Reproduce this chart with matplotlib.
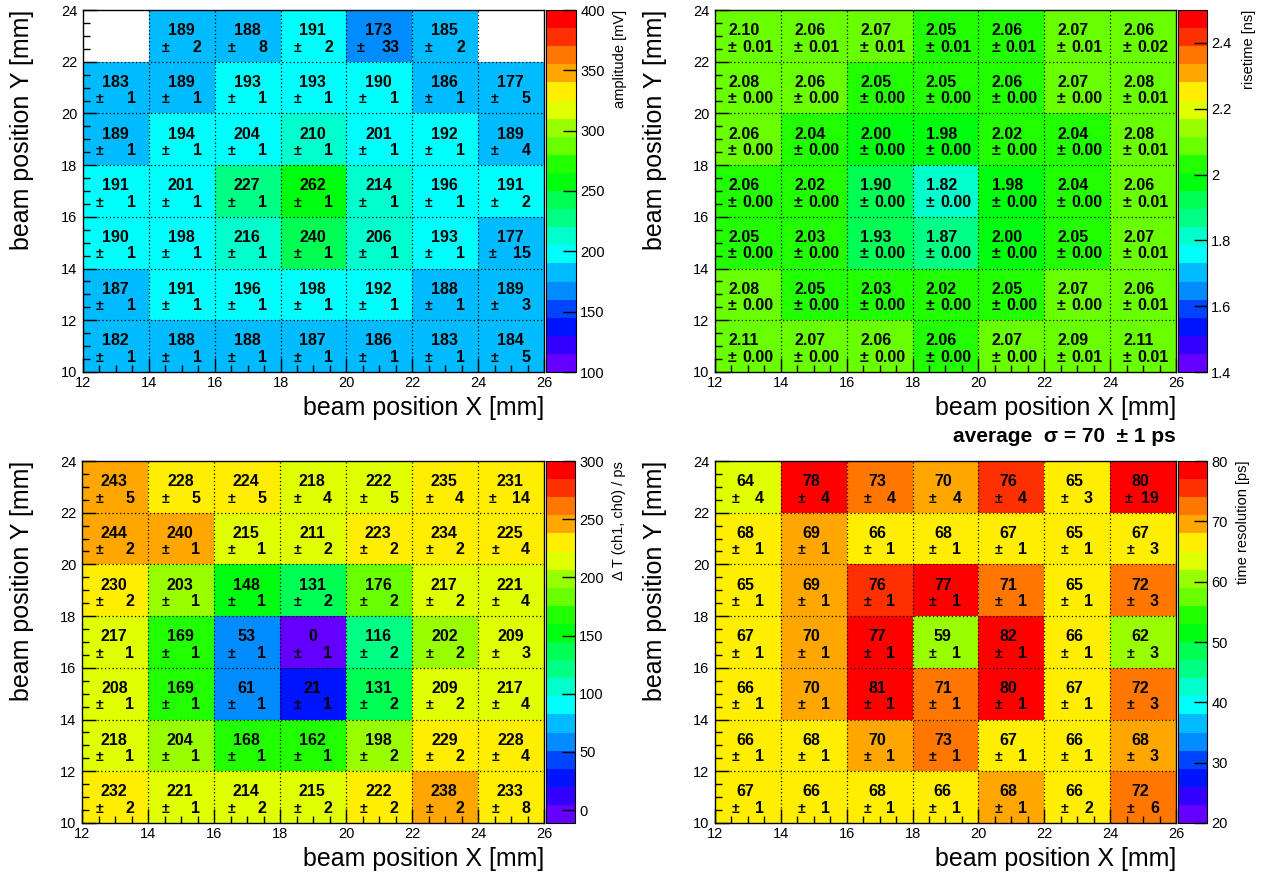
import numpy as np
import matplotlib
matplotlib.use("Agg")
import matplotlib.pyplot as plt
from matplotlib.colors import ListedColormap, Normalize
from matplotlib.cm import ScalarMappable
from matplotlib.ticker import MultipleLocator, FixedLocator, FuncFormatter
import colorsys

plt.rcParams['font.family'] = ['Liberation Sans', 'DejaVu Sans']

nan = np.nan
x_edges = [12, 14, 16, 18, 20, 22, 24, 26]
y_edges = [10, 12, 14, 16, 18, 20, 22, 24]

# rows listed from top (y 22-24) to bottom (y 10-12)
amp_val = [[nan, 189, 188, 191, 173, 185, nan],
           [183, 189, 193, 193, 190.2, 186, 177],
           [189, 194, 204, 210, 201, 192, 189],
           [191, 201, 227, 262, 214, 196, 191],
           [190.2, 198, 216, 240, 206, 193, 177],
           [187, 191, 196, 198, 192, 188, 189],
           [182, 188, 188, 187, 186, 183, 184]]
amp_err = [[nan, 2, 8, 2, 33, 2, nan],
           [1, 1, 1, 1, 1, 1, 5],
           [1, 1, 1, 1, 1, 1, 4],
           [1, 1, 1, 1, 1, 1, 2],
           [1, 1, 1, 1, 1, 1, 15],
           [1, 1, 1, 1, 1, 1, 3],
           [1, 1, 1, 1, 1, 1, 5]]

rise_val = [[2.10, 2.062, 2.07, 2.05, 2.058, 2.07, 2.062],
            [2.08, 2.062, 2.05, 2.05, 2.058, 2.07, 2.08],
            [2.062, 2.04, 2.00, 1.98, 2.02, 2.04, 2.08],
            [2.058, 2.02, 1.90, 1.82, 1.98, 2.04, 2.062],
            [2.05, 2.03, 1.93, 1.87, 2.00, 2.05, 2.07],
            [2.08, 2.05, 2.03, 2.02, 2.05, 2.07, 2.062],
            [2.11, 2.07, 2.062, 2.058, 2.07, 2.09, 2.11]]
rise_err = [[0.01, 0.01, 0.01, 0.01, 0.01, 0.01, 0.02],
            [0.00, 0.00, 0.00, 0.00, 0.00, 0.00, 0.01],
            [0.00, 0.00, 0.00, 0.00, 0.00, 0.00, 0.01],
            [0.00, 0.00, 0.00, 0.00, 0.00, 0.00, 0.01],
            [0.00, 0.00, 0.00, 0.00, 0.00, 0.00, 0.01],
            [0.00, 0.00, 0.00, 0.00, 0.00, 0.00, 0.01],
            [0.00, 0.00, 0.00, 0.00, 0.00, 0.01, 0.01]]

dt_val = [[243, 228, 224, 218, 222, 235, 231],
          [244, 240, 215, 211, 223, 234, 225],
          [230, 203, 148, 131, 176, 217, 221],
          [217, 169, 53, 0, 116, 202, 209],
          [208, 169, 61, 21, 131, 209, 217],
          [218, 204, 168, 162, 198, 229, 228],
          [232, 221, 214, 215, 222.4, 238, 233]]
dt_err = [[5, 5, 5, 4, 5, 4, 14],
          [2, 1, 1, 2, 2, 2, 4],
          [2, 1, 1, 2, 2, 2, 4],
          [1, 1, 1, 1, 2, 2, 3],
          [1, 1, 1, 1, 2, 2, 4],
          [1, 1, 1, 1, 2, 2, 4],
          [2, 1, 2, 2, 2, 2, 8]]

tr_val = [[64, 78, 73, 70, 76, 65, 80],
          [67.8, 69, 66, 67.8, 67, 65, 67],
          [65, 69, 76, 77.2, 71, 65, 72],
          [67, 70, 77.2, 59, 82, 66, 61.8],
          [66, 70, 81, 71, 80, 67, 72],
          [66, 67.8, 70, 73, 67, 66, 68.3],
          [67, 66, 67.8, 66, 68.3, 66, 72]]
tr_err = [[4, 4, 4, 4, 4, 3, 19],
          [1, 1, 1, 1, 1, 1, 3],
          [1, 1, 1, 1, 1, 1, 3],
          [1, 1, 1, 1, 1, 1, 3],
          [1, 1, 1, 1, 1, 1, 3],
          [1, 1, 1, 1, 1, 1, 3],
          [1, 1, 1, 1, 1, 2, 6]]

# ROOT "pretty palette" (violet -> red), 20 contour levels
def root_palette(n=20):
    cols = []
    for k in range(n):
        idx = int((k + 0.99) * 50 / n)
        if idx >= 49:
            cols.append((1.0, 0.0, 0.0))
        else:
            hue = 280 - (idx + 1) * 5.6
            cols.append(colorsys.hls_to_rgb(hue / 360.0, 0.5, 1.0))
    cm = ListedColormap(cols)
    cm.set_bad('white')
    cm.set_over(cols[-1])
    cm.set_under(cols[0])
    return cm

cmap = root_palette()

W, H = 1263, 876
fig = plt.figure(figsize=(W / 100, H / 100), dpi=100)

def fx(px):
    return px / W

def fy(py):
    return 1 - py / H

panels = [
    dict(val=amp_val, err=amp_err, vmin=100, vmax=400, ticks=[100, 150, 200, 250, 300, 350, 400],
         box=(83, 10, 544, 372), cb=(546, 576), cbtitle='amplitude [mV]', cbtx=620,
         fmt='{:.0f}', efmt='{:.0f}', fv=0.49, fpm=0.25, fer=0.80, ylab_x=22),
    dict(val=rise_val, err=rise_err, vmin=1.4, vmax=2.5, ticks=[1.4, 1.6, 1.8, 2.0, 2.2, 2.4],
         box=(715, 10, 1176, 372), cb=(1178, 1207), cbtitle='risetime [ns]', cbtx=1249,
         fmt='{:.2f}', efmt='{:.2f}', fv=0.44, fpm=0.26, fer=0.89, ylab_x=655),
    dict(val=dt_val, err=dt_err, vmin=-11, vmax=300, ticks=[0, 50, 100, 150, 200, 250, 300],
         box=(82, 461, 544, 823), cb=(546, 575), cbtitle='Δ T (ch1, ch0) / ps', cbtx=619,
         fmt='{:.0f}', efmt='{:.0f}', fv=0.49, fpm=0.26, fer=0.79, ylab_x=22),
    dict(val=tr_val, err=tr_err, vmin=20, vmax=80, ticks=[20, 30, 40, 50, 60, 70, 80],
         box=(715, 461, 1176, 823), cb=(1178, 1207), cbtitle='time resolution [ps]', cbtx=1243,
         fmt='{:.0f}', efmt='{:.0f}', fv=0.46, fpm=0.31, fer=0.74, ylab_x=655),
]

for p in panels:
    x0, y0, x1, y1 = p['box']
    ax = fig.add_axes([fx(x0), fy(y1), fx(x1 - x0), (y1 - y0) / H])
    vals = np.array(p['val'], dtype=float)[::-1]
    errs = np.array(p['err'], dtype=float)[::-1]
    norm = Normalize(vmin=p['vmin'], vmax=p['vmax'])
    ax.pcolormesh(x_edges, y_edges, np.ma.masked_invalid(vals), cmap=cmap, norm=norm,
                  shading='flat', zorder=1)
    ax.set_xlim(12, 26)
    ax.set_ylim(10, 24)
    ax.set_xticks(x_edges)
    ax.set_yticks(y_edges)
    ax.xaxis.set_minor_locator(MultipleLocator(0.5))
    ax.yaxis.set_minor_locator(MultipleLocator(0.5))
    ax.tick_params(which='both', direction='in', top=False, right=False, labelsize=10.5,
                   colors='black', width=1)
    ax.tick_params(which='major', length=10)
    ax.tick_params(which='minor', length=5)
    ax.tick_params(axis='x', pad=3)
    ax.tick_params(axis='y', pad=4)
    for s in ax.spines.values():
        s.set_linewidth(1)
        s.set_zorder(5)
    # dotted grid
    for xv in x_edges[1:-1]:
        ax.axvline(xv, color='black', lw=0.9, ls=(0, (1, 2)), zorder=3)
    for yv in y_edges[1:-1]:
        ax.axhline(yv, color='black', lw=0.9, ls=(0, (1, 2)), zorder=3)

    nrow, ncol = vals.shape
    for i in range(nrow):
        for j in range(ncol):
            v = vals[i, j]
            if np.isnan(v):
                continue
            e = errs[i, j]
            cx0 = x_edges[j]
            yc = (y_edges[i] + y_edges[i + 1]) / 2
            ax.text(cx0 + 2 * p['fv'], yc + 0.03, p['fmt'].format(v), ha='center', va='baseline',
                    fontsize=11.5, weight='bold', zorder=6)
            es = p['efmt'].format(e)
            fpm = p['fpm']
            if p['efmt'] == '{:.0f}' and len(es) > 1:
                fpm -= 0.035
            ax.text(cx0 + 2 * fpm, yc - 0.61, '±', ha='center', va='baseline',
                    fontsize=10 if p['efmt'] == '{:.0f}' else 11.5, weight='bold', zorder=6)
            ax.text(cx0 + 2 * p['fer'], yc - 0.61, es, ha='right', va='baseline',
                    fontsize=11.5, weight='bold', zorder=6)

    # axis titles
    fig.text(fx(x1), fy(y1 + 36), 'beam position X [mm]', ha='right', va='center', fontsize=18)
    fig.text(fx(p['ylab_x']), fy(y0), 'beam position Y [mm]', ha='center', va='top',
             rotation=90, fontsize=18)

    # colour bar
    c0, c1 = p['cb']
    cax = fig.add_axes([fx(c0), fy(y1), fx(c1 - c0), (y1 - y0) / H])
    cb = fig.colorbar(ScalarMappable(norm=norm, cmap=cmap), cax=cax)
    cb.outline.set_linewidth(0.8)
    cb.set_ticks(p['ticks'])
    cb.ax.yaxis.set_major_formatter(FuncFormatter(lambda v, pos: '{:g}'.format(round(v, 3))))
    cax.tick_params(axis='y', direction='in', length=9.5, width=1, pad=3, labelsize=10.5)
    cax.minorticks_off()
    fig.text(fx(p['cbtx']), fy(y0), p['cbtitle'], ha='center', va='top', rotation=90, fontsize=10.5)

fig.text(fx(1176), fy(437), 'average  σ = 70  ± 1 ps', ha='right', va='center',
         fontsize=15, weight='bold')

fig.savefig('out.png', dpi=100)
